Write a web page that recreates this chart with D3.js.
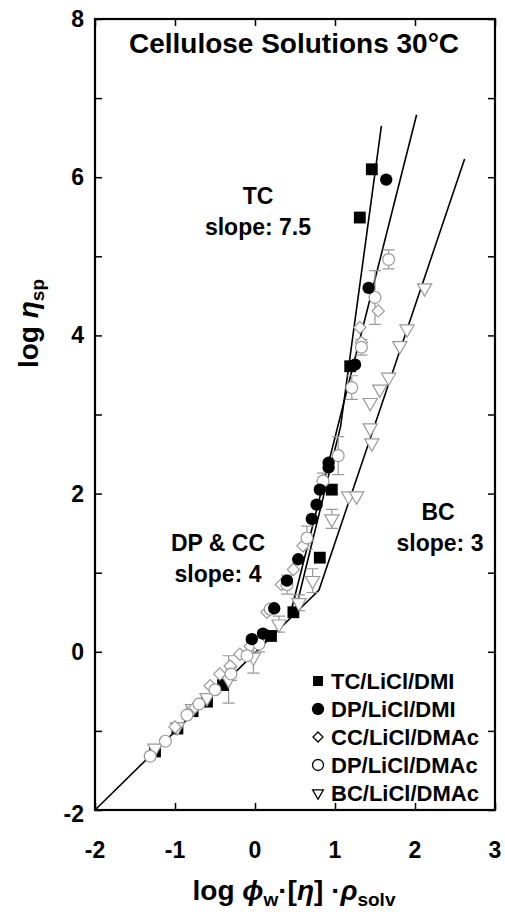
<!DOCTYPE html>
<html lang="en">
<head>
<meta charset="UTF-8">
<title>Cellulose Solutions</title>
<script src="https://cdn.jsdelivr.net/npm/d3@7/dist/d3.min.js"></script>
<style>
  body { margin: 0; background: #fff; }
  text { font-family: "Liberation Sans", Arial, sans-serif; font-weight: bold; }
</style>
</head>
<body>
<script>
// data (log-log)
const tcX = [-1.25, -0.97, -0.78, -0.6, -0.4, 0.2, 0.48, 0.81, 0.96, 1.19, 1.31, 1.46];
const tcY = [-1.26, -0.97, -0.75, -0.63, -0.42, 0.2, 0.5, 1.19, 2.05, 3.61, 5.49, 6.1];

const dpDmiX = [-0.04, 0.1, 0.24, 0.4, 0.54, 0.71, 0.77, 0.81, 0.92, 0.92, 1.25, 1.42, 1.64];
const dpDmiY = [0.16, 0.23, 0.55, 0.9, 1.17, 1.68, 1.86, 2.05, 2.33, 2.39, 3.63, 4.6, 5.97];

const ccX = [-1.0, -0.75, -0.56, -0.44, -0.31, -0.19, -0.06, 0.15, 0.33, 0.48, 0.6, 1.33, 1.31, 1.54];
const ccY = [-0.95, -0.7, -0.43, -0.28, -0.18, -0.03, 0.07, 0.5, 0.85, 1.04, 1.34, 3.91, 4.1, 4.31];

const dpDmacX = [-1.31, -1.12, -0.85, -0.7, -0.5, -0.3, -0.1, 0.05, 0.19, 0.4, 0.65, 0.85, 1.04, 1.21, 1.33, 1.5, 1.67];
const dpDmacY = [-1.32, -1.13, -0.8, -0.66, -0.48, -0.28, -0.05, 0.1, 0.54, 0.85, 1.44, 2.16, 2.48, 3.34, 3.85, 4.48, 4.96];
const dpDmacErr = [0, 0, 0, 0, 0, 0.08, 0, 0.1, 0, 0.12, 0.15, 0.1, 0.24, 0.15, 0.1, 0.34, 0.12];

const bcX = [-1.25, -0.97, -0.78, -0.6, -0.33, -0.02, 0.3, 0.55, 0.72, 0.96, 1.17, 1.27, 1.46, 1.44, 1.44, 1.56, 1.67, 1.81, 1.9, 2.12];
const bcY = [-1.22, -0.95, -0.72, -0.58, -0.35, -0.07, 0.35, 0.62, 0.9, 1.68, 1.97, 1.97, 2.64, 2.83, 3.15, 3.32, 3.47, 3.87, 4.08, 4.6];
const bcErr = [0, 0, 0, 0, 0.3, 0.2, 0.1, 0.1, 0.15, 0.12, 0, 0, 0, 0, 0, 0, 0, 0, 0, 0];

// fitted power-law lines (vertices)
const bcLine = [[-2, -2], [0.8, 0.78], [2.62, 6.23]];
const dpLine = [[0.43, 0.43], [2.02, 6.79]];
const tcLine = [[0.5, 0.5], [1.07, 2.85], [1.58, 6.65]];

const xTicks = [-2, -1, 0, 1, 2, 3];
const yTicks = [-2, -1, 0, 1, 2, 3, 4, 5, 6, 7, 8];
const yLabels = [-2, 0, 2, 4, 6, 8];

const legendNames = ["TC/LiCl/DMI", "DP/LiCl/DMI", "CC/LiCl/DMAc", "DP/LiCl/DMAc", "BC/LiCl/DMAc"];

const W = 505, H = 914;
const margin = {top: 19, right: 10, bottom: 104, left: 95};
const grey = "#9a9a9a";

const svg = d3.select("body").append("svg").attr("width", W).attr("height", H);

const x = d3.scaleLinear().domain([-2, 3]).range([margin.left, W - margin.right]);
const y = d3.scaleLinear().domain([-2, 8]).range([H - margin.bottom, margin.top]);

// frame + inward ticks on all sides
const tk = 7;
svg.append("g").attr("transform", `translate(0,${y(-2)})`)
    .call(d3.axisTop(x).tickValues(xTicks).tickSize(tk).tickFormat(""))
    .call(g => g.select(".domain").remove());
svg.append("g").attr("transform", `translate(0,${y(8)})`)
    .call(d3.axisBottom(x).tickValues(xTicks).tickSize(tk).tickFormat(""))
    .call(g => g.select(".domain").remove());
svg.append("g").attr("transform", `translate(${x(-2)},0)`)
    .call(d3.axisRight(y).tickValues(yTicks).tickSize(tk).tickFormat(""))
    .call(g => g.select(".domain").remove());
svg.append("g").attr("transform", `translate(${x(3)},0)`)
    .call(d3.axisLeft(y).tickValues(yTicks).tickSize(tk).tickFormat(""))
    .call(g => g.select(".domain").remove());
svg.selectAll(".tick line").attr("stroke", "#000").attr("stroke-width", 1.5);

svg.append("rect")
    .attr("x", x(-2)).attr("y", y(8))
    .attr("width", x(3) - x(-2)).attr("height", y(-2) - y(8))
    .attr("fill", "none").attr("stroke", "#000").attr("stroke-width", 2.2);

// tick labels
svg.append("g").selectAll("text").data(xTicks).join("text")
    .attr("x", d => x(d)).attr("y", 858)
    .attr("text-anchor", "middle").attr("font-size", 23)
    .text(d => d);
svg.append("g").selectAll("text").data(yLabels).join("text")
    .attr("x", 84).attr("y", d => y(d) + (d === -2 ? 12 : 8))
    .attr("text-anchor", "end").attr("font-size", 23)
    .text(d => d);

// fit lines
const line = d3.line().x(d => x(d[0])).y(d => y(d[1]));
[bcLine, dpLine, tcLine].forEach(l => {
    svg.append("path").attr("d", line(l)).attr("fill", "none")
        .attr("stroke", "#000").attr("stroke-width", 1.6);
});

// symbols
const sq = d3.symbol().type(d3.symbolSquare).size(140);
const circ = d3.symbol().type(d3.symbolCircle).size(120);
const dia = d3.symbol().type(d3.symbolSquare).size(75);
const ocirc = d3.symbol().type(d3.symbolCircle).size(110);
const tri = d3.symbol().type(d3.symbolTriangle).size(88);

function errBars(xs, ys, es) {
    const d = xs.map((v, i) => [v, ys[i], es[i]]).filter(p => p[2] > 0);
    const g = svg.append("g").attr("stroke", grey).attr("stroke-width", 1.2).attr("fill", "none");
    g.selectAll("path").data(d).join("path")
        .attr("d", p => {
            const cx = x(p[0]), y1 = y(p[1] + p[2]), y0 = y(p[1] - p[2]);
            return `M${cx},${y1}V${y0}M${cx - 6},${y1}H${cx + 6}M${cx - 6},${y0}H${cx + 6}`;
        });
}
errBars(bcX, bcY, bcErr);
errBars(dpDmacX, dpDmacY, dpDmacErr);

function pts(xs, ys, sym, fill, stroke, rot) {
    svg.append("g").selectAll("path").data(xs.map((v, i) => [v, ys[i]])).join("path")
        .attr("d", sym)
        .attr("transform", d => `translate(${x(d[0])},${y(d[1])}) rotate(${rot})`)
        .attr("fill", fill).attr("stroke", stroke).attr("stroke-width", 1.2);
}
pts(tcX, tcY, sq, "#000", "none", 0);
pts(bcX, bcY, tri, "#fff", grey, 180);
pts(ccX, ccY, dia, "#fff", grey, 45);
pts(dpDmacX, dpDmacY, ocirc, "#fff", grey, 0);
pts(dpDmiX, dpDmiY, circ, "#000", "none", 0);

// legend
const legSyms = [
    {s: d3.symbol().type(d3.symbolSquare).size(100), f: "#000", st: "none", r: 0},
    {s: d3.symbol().type(d3.symbolCircle).size(120), f: "#000", st: "none", r: 0},
    {s: d3.symbol().type(d3.symbolSquare).size(50), f: "#fff", st: "#000", r: 45},
    {s: d3.symbol().type(d3.symbolCircle).size(95), f: "#fff", st: "#000", r: 0},
    {s: d3.symbol().type(d3.symbolTriangle).size(50), f: "#fff", st: "#000", r: 180}
];
const legY = [681, 709, 737, 765, 793];
const leg = svg.append("g");
legendNames.forEach((n, i) => {
    leg.append("path").attr("d", legSyms[i].s)
        .attr("transform", `translate(318,${legY[i]}) rotate(${legSyms[i].r})`)
        .attr("fill", legSyms[i].f).attr("stroke", legSyms[i].st).attr("stroke-width", 1.3);
    leg.append("text").attr("x", 331).attr("y", legY[i] + 8)
        .attr("font-size", 22).text(n);
});

// title and annotations
svg.append("text").attr("x", 294).attr("y", 53).attr("text-anchor", "middle")
    .attr("font-size", 28).text("Cellulose Solutions 30°C");

const notes = [
    {t: "TC", x: 258, y: 204}, {t: "slope: 7.5", x: 258, y: 235},
    {t: "DP & CC", x: 218, y: 551}, {t: "slope: 4", x: 218, y: 582},
    {t: "BC", x: 438, y: 520}, {t: "slope: 3", x: 440, y: 551}
];
svg.append("g").selectAll("text").data(notes).join("text")
    .attr("x", d => d.x).attr("y", d => d.y).attr("text-anchor", "middle")
    .attr("font-size", 23).text(d => d.t);

// axis titles
const xl = svg.append("text").attr("x", 294).attr("y", 900).attr("text-anchor", "middle").attr("font-size", 28);
xl.append("tspan").text("log ");
xl.append("tspan").attr("font-style", "italic").text("ϕ");
xl.append("tspan").attr("font-size", 19).attr("dy", 6).text("w");
xl.append("tspan").attr("dy", -6).text("·[");
xl.append("tspan").attr("font-style", "italic").text("η");
xl.append("tspan").text("] ·");
xl.append("tspan").attr("font-style", "italic").text("ρ");
xl.append("tspan").attr("font-size", 19).attr("dy", 6).text("solv");

const yl = svg.append("text").attr("transform", `translate(38,${y(4.15)}) rotate(-90)`)
    .attr("text-anchor", "middle").attr("font-size", 28);
yl.append("tspan").text("log ");
yl.append("tspan").attr("font-style", "italic").text("η");
yl.append("tspan").attr("font-size", 19).attr("dy", 6).text("sp");
</script>
</body>
</html>
